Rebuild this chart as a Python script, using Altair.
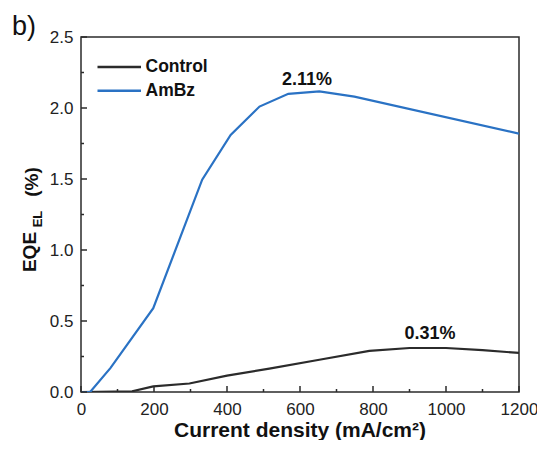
import altair as alt
import pandas as pd

# ---- data ----
control_j = [0, 140, 198, 297, 400, 516, 653, 790, 900, 1000, 1100, 1200]
control_eqe = [0, 0.005, 0.04, 0.06, 0.115, 0.165, 0.227, 0.29, 0.31, 0.31, 0.295, 0.275]
ambz_j = [0, 25, 81, 198, 332, 410, 489, 568, 653, 749, 1200]
ambz_eqe = [0, 0, 0.17, 0.59, 1.495, 1.81, 2.01, 2.10, 2.117, 2.08, 1.82]

series_names = ["Control", "AmBz"]
series_colors = ["#2b2b2b", "#2a72c4"]

x_label_values = [0, 200, 400, 600, 800, 1000, 1200]
x_minor_values = [100, 300, 500, 700, 900, 1100]
y_label_values = [0.0, 0.5, 1.0, 1.5, 2.0, 2.5]
y_minor_values = [0.25, 0.75, 1.25, 1.75, 2.25]

peak_text = ["2.11%", "0.31%"]
peak_x = [619, 956]
peak_y = [2.2, 0.41]

W, H = 438, 355
FONT = "Liberation Sans"
AX = "#2b2b2b"

rows = []
for j, e in zip(control_j, control_eqe):
    rows.append({"series": "Control", "j": j, "eqe": e})
for j, e in zip(ambz_j, ambz_eqe):
    rows.append({"series": "AmBz", "j": j, "eqe": e})
df = pd.DataFrame(rows)
peaks = pd.DataFrame({"label": peak_text, "j": peak_x, "eqe": peak_y})

xscale = alt.Scale(domain=[0, 1200], nice=False, zero=False)
yscale = alt.Scale(domain=[0, 2.5], nice=False, zero=False)

lines = alt.Chart(df).mark_line(strokeWidth=2.2, clip=True).encode(
    x=alt.X("j:Q", scale=xscale, axis=alt.Axis(
        values=x_label_values, ticks=False, tickSize=0, domain=False, grid=False,
        title=None, labelFont=FONT, labelFontSize=17, labelColor="#222",
        labelPadding=9, labelFlush=False, format="d")),
    y=alt.Y("eqe:Q", scale=yscale, axis=alt.Axis(
        values=y_label_values, ticks=False, tickSize=0, domain=False, grid=False,
        title=None, labelFont=FONT, labelFontSize=17, labelColor="#222",
        labelPadding=8, format=".1f", labelFlush=False)),
    color=alt.Color("series:N", scale=alt.Scale(domain=series_names, range=series_colors),
                    legend=None),
)


# inward ticks, placed through the shared scales
def x_ticks(values, length):
    return alt.Chart(pd.DataFrame({"v": values})).mark_rule(
        color=AX, strokeWidth=1.5).encode(
        x=alt.X("v:Q", scale=xscale, axis=None),
        y=alt.value(H), y2=alt.value(H - length))


def y_ticks(values, length):
    return alt.Chart(pd.DataFrame({"v": values})).mark_rule(
        color=AX, strokeWidth=1.5).encode(
        y=alt.Y("v:Q", scale=yscale, axis=None),
        x=alt.value(0), x2=alt.value(length))


ticks = [x_ticks(x_label_values, 6), x_ticks(x_minor_values, 3),
         y_ticks(y_label_values, 6), y_ticks(y_minor_values, 3)]

peak_labels = alt.Chart(peaks).mark_text(
    font=FONT, fontSize=18, fontWeight="bold", color="#111",
    align="center", baseline="middle").encode(
    x=alt.X("j:Q", scale=xscale, axis=None),
    y=alt.Y("eqe:Q", scale=yscale, axis=None),
    text="label:N")


def free_text(txt, x, y, size, weight="bold", angle=0, align="center", baseline="middle"):
    kw = dict(font=FONT, fontSize=size, fontWeight=weight, color="#111",
              align=align, baseline=baseline)
    if angle:
        kw["angle"] = angle
    return alt.Chart(pd.DataFrame({"t": [txt]})).mark_text(**kw).encode(
        x=alt.value(x), y=alt.value(y), text="t:N")


# legend (line sample + bold label per series)
legend_layers = []
for i, (name, col) in enumerate(zip(series_names, series_colors)):
    ly = 30 + i * 23.7
    legend_layers.append(
        alt.Chart(pd.DataFrame({"s": [name]})).mark_rule(color=col, strokeWidth=2.5).encode(
            x=alt.value(16.5), x2=alt.value(60), y=alt.value(ly)))
    legend_layers.append(free_text(name, 64.5, ly, 17.5, align="left"))

x_title = free_text("Current density (mA/cm²)", 219, 394, 21)
y_title_a = free_text("EQE", -51.5, 215, 19, angle=270)
y_title_b = free_text("EL", -42.8, 182, 13, angle=270)
y_title_c = free_text("(%)", -49, 145, 19, angle=270)
panel = free_text("b)", -69, -2, 27, weight="normal", align="left", baseline="alphabetic")

chart = alt.layer(
    lines, *ticks, peak_labels, *legend_layers,
    x_title, y_title_a, y_title_b, y_title_c, panel
).resolve_axis(x="independent", y="independent").properties(
    width=W, height=H,
    autosize=alt.AutoSizeParams(type="none"),
    padding={"left": 73, "top": 29, "right": 18, "bottom": 48},
).configure_view(stroke=AX, strokeWidth=1.5)

chart.save("out.html", embed_options={"renderer": "svg", "actions": False})
